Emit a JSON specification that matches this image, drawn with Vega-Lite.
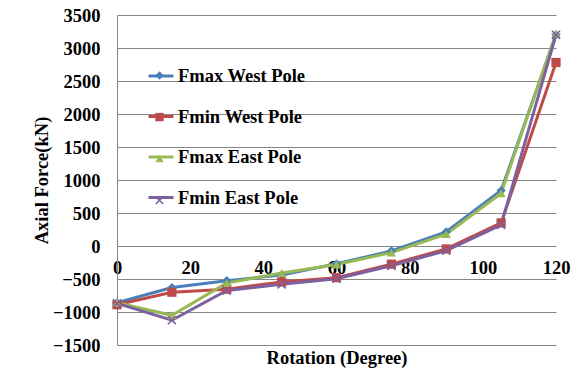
{
  "$schema": "https://vega.github.io/schema/vega-lite/v6.json",
  "width": 439,
  "height": 330,
  "autosize": {"type": "none"},
  "padding": {"left": 117, "top": 15, "right": 28, "bottom": 41},
  "background": "white",
  "config": {"view": {"stroke": null}, "font": "Liberation Serif"},
  "data": {
    "values": [
      {"series": "Fmax West Pole", "rotation": 0, "force": -860},
      {"series": "Fmax West Pole", "rotation": 15, "force": -630},
      {"series": "Fmax West Pole", "rotation": 30, "force": -525},
      {"series": "Fmax West Pole", "rotation": 45, "force": -440},
      {"series": "Fmax West Pole", "rotation": 60, "force": -270},
      {"series": "Fmax West Pole", "rotation": 75, "force": -75},
      {"series": "Fmax West Pole", "rotation": 90, "force": 215},
      {"series": "Fmax West Pole", "rotation": 105, "force": 840},
      {"series": "Fmax West Pole", "rotation": 120, "force": 3200},
      {"series": "Fmin West Pole", "rotation": 0, "force": -890},
      {"series": "Fmin West Pole", "rotation": 15, "force": -700},
      {"series": "Fmin West Pole", "rotation": 30, "force": -655},
      {"series": "Fmin West Pole", "rotation": 45, "force": -545},
      {"series": "Fmin West Pole", "rotation": 60, "force": -480},
      {"series": "Fmin West Pole", "rotation": 75, "force": -275},
      {"series": "Fmin West Pole", "rotation": 90, "force": -45},
      {"series": "Fmin West Pole", "rotation": 105, "force": 350},
      {"series": "Fmin West Pole", "rotation": 120, "force": 2780},
      {"series": "Fmax East Pole", "rotation": 0, "force": -860},
      {"series": "Fmax East Pole", "rotation": 15, "force": -1050},
      {"series": "Fmax East Pole", "rotation": 30, "force": -560},
      {"series": "Fmax East Pole", "rotation": 45, "force": -410},
      {"series": "Fmax East Pole", "rotation": 60, "force": -280},
      {"series": "Fmax East Pole", "rotation": 75, "force": -100},
      {"series": "Fmax East Pole", "rotation": 90, "force": 180},
      {"series": "Fmax East Pole", "rotation": 105, "force": 800},
      {"series": "Fmax East Pole", "rotation": 120, "force": 3220},
      {"series": "Fmin East Pole", "rotation": 0, "force": -870},
      {"series": "Fmin East Pole", "rotation": 15, "force": -1125},
      {"series": "Fmin East Pole", "rotation": 30, "force": -675},
      {"series": "Fmin East Pole", "rotation": 45, "force": -580},
      {"series": "Fmin East Pole", "rotation": 60, "force": -495},
      {"series": "Fmin East Pole", "rotation": 75, "force": -300},
      {"series": "Fmin East Pole", "rotation": 90, "force": -70},
      {"series": "Fmin East Pole", "rotation": 105, "force": 320},
      {"series": "Fmin East Pole", "rotation": 120, "force": 3200}
    ]
  },
  "encoding": {
    "x": {
      "field": "rotation", "type": "quantitative",
      "scale": {"domain": [0, 120], "nice": false, "zero": false},
      "axis": {
        "title": "Rotation (Degree)",
        "values": [0, 20, 40, 60, 80, 100, 120],
        "format": "d",
        "offset": -99,
        "domain": false, "ticks": false, "grid": false,
        "labelPadding": 12, "labelFlush": false, "labelOverlap": false,
        "labelFont": "Liberation Serif", "labelFontSize": 18.5, "labelFontWeight": "bold", "labelColor": "black",
        "titleFont": "Liberation Serif", "titleFontSize": 18.5, "titleFontWeight": "bold", "titleColor": "black",
        "titleY": 117, "titleBaseline": "alphabetic"
      }
    },
    "y": {
      "field": "force", "type": "quantitative",
      "scale": {"domain": [-1500, 3500], "nice": false, "zero": false},
      "axis": {
        "title": "Axial Force(kN)",
        "values": [-1500, -1000, -500, 0, 500, 1000, 1500, 2000, 2500, 3000, 3500],
        "format": "d",
        "grid": true, "gridColor": "#868686", "gridOpacity": 1, "gridWidth": 1,
        "domain": true, "domainColor": "#868686", "domainWidth": 1,
        "ticks": false,
        "labelPadding": 17, "labelFlush": false, "labelOverlap": false,
        "labelFont": "Liberation Serif", "labelFontSize": 18.5, "labelFontWeight": "bold", "labelColor": "black",
        "titleFont": "Liberation Serif", "titleFontSize": 18.5, "titleFontWeight": "bold", "titleColor": "black",
        "titlePadding": 1
      }
    }
  },
  "layer": [
    {
      "mark": {"type": "line", "strokeWidth": 3},
      "encoding": {
        "stroke": {
          "field": "series", "type": "nominal",
          "scale": {
            "domain": ["Fmax West Pole", "Fmin West Pole", "Fmax East Pole", "Fmin East Pole"],
            "range": ["#4A7EBB", "#BE4B48", "#98B954", "#7D60A0"]
          },
          "legend": {
            "orient": "none", "legendX": 30, "legendY": 47, "title": null, "padding": 0,
            "symbolType": "stroke", "symbolSize": 625, "symbolStrokeWidth": 3,
            "labelFont": "Liberation Serif", "labelFontSize": 18.5, "labelFontWeight": "bold", "labelColor": "black",
            "labelOffset": 3, "rowPadding": 16.5, "labelLimit": 300
          }
        }
      }
    },
    {
      "mark": {"type": "point", "filled": true, "opacity": 1, "size": 85},
      "encoding": {
        "color": {
          "field": "series", "type": "nominal", "sort": null,
          "scale": {"range": ["#4A7EBB", "#BE4B48", "#98B954", "#7D60A0"]},
          "legend": {
            "orient": "none", "legendX": 38, "legendY": 56, "title": null, "padding": 0,
            "symbolSize": 70, "symbolStrokeWidth": 0,
            "labelExpr": "''", "labelFontSize": 1, "labelOffset": 0,
            "rowPadding": 32.6
          }
        },
        "shape": {
          "field": "series", "type": "nominal", "sort": null,
          "scale": {"range": ["diamond", "square", "triangle-up", "M-1,-0.75L-0.75,-1L1,0.75L0.75,1ZM-1,0.75L0.75,-1L1,-0.75L-0.75,1Z"]},
          "legend": {
            "orient": "none", "legendX": 38, "legendY": 56, "title": null, "padding": 0,
            "symbolSize": 70, "symbolStrokeWidth": 0,
            "labelExpr": "''", "labelFontSize": 1, "labelOffset": 0,
            "rowPadding": 32.6
          }
        }
      }
    }
  ]
}
